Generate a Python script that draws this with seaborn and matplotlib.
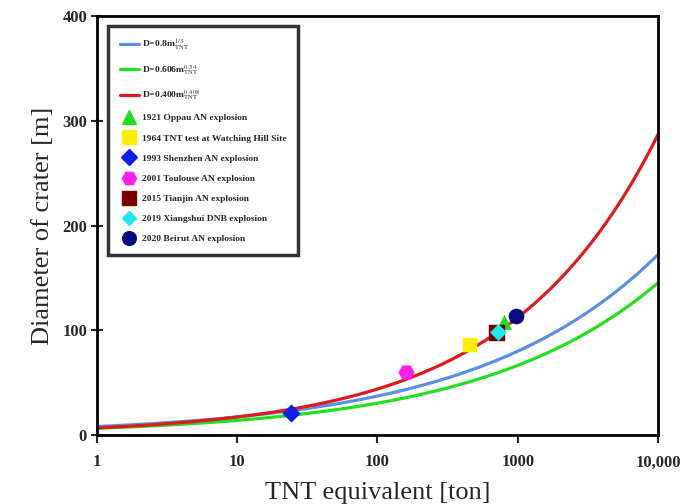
import numpy as np
import pandas as pd
import matplotlib
matplotlib.use("Agg")
import matplotlib.pyplot as plt
import seaborn as sns
from matplotlib.lines import Line2D

# Empirical crater-diameter models D = a * m_TNT(kg)^b
model_labels = [r"D=0.8m$_{\rm TNT}^{1/3}$", r"D=0.606m$_{\rm TNT}^{0.34}$", r"D=0.400m$_{\rm TNT}^{0.408}$"]
model_a = [0.8, 0.606, 0.400]
model_b = [1/3, 0.34, 0.408]
model_colors = ["#5a8fe6", "#22e01e", "#e01a1a"]

# Observed explosions
events = ["1921 Oppau AN explosion", "1964 TNT test at Watching Hill Site", "1993 Shenzhen AN explosion",
          "2001 Toulouse AN explosion", "2015 Tianjin AN explosion", "2019 Xiangshui DNB explosion",
          "2020 Beirut AN explosion"]
event_tnt = [800, 460, 24, 160, 710, 720, 970]
event_d = [108, 86, 21, 60, 97, 98, 114]
event_markers = ["^", "s", "D", "H", "s", "D", "o"]
event_colors = ["#22dd22", "#ffee00", "#0a1ee6", "#ff22ee", "#7a0000", "#22e6ee", "#0a0a80"]
event_sizes = [110, 110, 80, 130, 120, 70, 120]

xticks = [1, 10, 100, 1000, 10000]
xticklabels = ["1", "10", "100", "1000", "10,000"]
yticks = [0, 100, 200, 300, 400]

sns.set_style("white")
plt.rcParams["font.family"] = ["Liberation Serif", "DejaVu Serif"]
plt.rcParams["mathtext.fontset"] = "stix"

fig = plt.figure(figsize=(6.82, 5.04), dpi=100)
ax = fig.add_axes([0.142, 0.137, 0.823, 0.831])

tons = np.logspace(0, 4, 300)
rows = []
for lab, a, b in zip(model_labels, model_a, model_b):
    for t in tons:
        rows.append({"tnt": t, "D": a * (t * 1000) ** b, "model": lab})
curves = pd.DataFrame(rows)
sns.lineplot(data=curves, x="tnt", y="D", hue="model", palette=dict(zip(model_labels, model_colors)),
             linewidth=2.3, ax=ax, legend=False)

handles = []
for lab, c in zip(model_labels, model_colors):
    handles.append(Line2D([], [], color=c, lw=2.3, label=lab))

for ev, t, d, m, c, s in zip(events, event_tnt, event_d, event_markers, event_colors, event_sizes):
    df = pd.DataFrame({"tnt": [t], "D": [d]})
    sns.scatterplot(data=df, x="tnt", y="D", marker=m, color=c, s=s, linewidth=0.3,
                    edgecolor=c, ax=ax, zorder=5, legend=False)
    handles.append(Line2D([], [], marker=m, color=c, linestyle="none", markersize=np.sqrt(s) * 0.9,
                          markeredgecolor=c, label=ev))

ax.set_xscale("log")
ax.set_xlim(1, 10000)
ax.set_ylim(0, 400)
ax.set_xticks(xticks)
ax.set_xticklabels(xticklabels)
ax.set_yticks(yticks)
ax.minorticks_off()
ax.tick_params(axis="x", direction="out", length=6, width=1.5, labelsize=12, pad=8)
ax.tick_params(axis="y", direction="inout", length=8, width=1.5, labelsize=12, pad=3)
ax.tick_params(axis="both", bottom=True, left=True)
for lbl in ax.get_xticklabels() + ax.get_yticklabels():
    lbl.set_fontweight("bold")
for sp in ax.spines.values():
    sp.set_linewidth(2)
    sp.set_color("black")

ax.set_xlabel("TNT equivalent [ton]", fontsize=19, labelpad=8)
ax.set_ylabel("Diameter of crater [m]", fontsize=19, labelpad=6)

leg = ax.legend(handles=handles, loc="upper left", bbox_to_anchor=(0.012, 0.988),
                prop={"family": ["Liberation Serif"], "weight": "bold", "size": 6.8},
                frameon=True, fancybox=False, edgecolor="black", labelspacing=1.22,
                handlelength=2.0, handletextpad=0.4, borderpad=1.2)
leg.get_frame().set_linewidth(2.5)

fig.savefig("out.png", dpi=100)
